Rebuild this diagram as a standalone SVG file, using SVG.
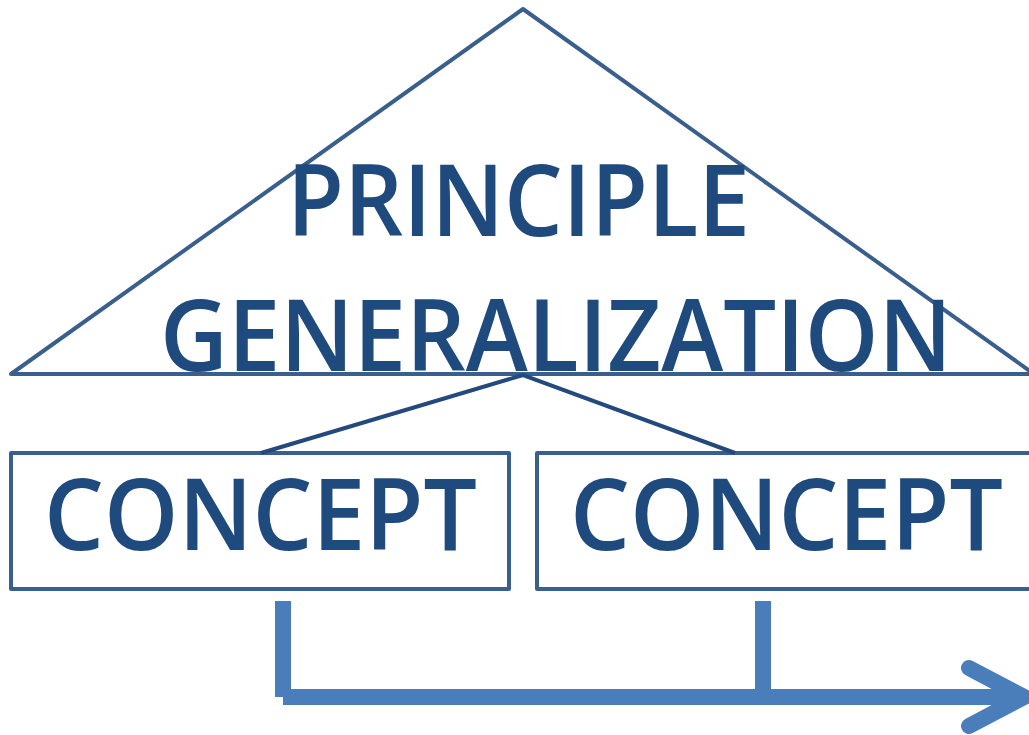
<svg xmlns="http://www.w3.org/2000/svg" width="1029" height="735" viewBox="0 0 1029 735">
<style>
.shape{fill:none;stroke:#3A5F8D;stroke-width:4;stroke-linejoin:round;stroke-linecap:round}
.lbl{font-family:"Open Sans","Noto Sans",sans-serif;font-weight:600;font-size:100px;fill:#1F4A7E;text-anchor:middle}
.link{stroke:#24497D;stroke-width:4;fill:none}
.flow{stroke:#4A7EBB;stroke-width:16;fill:none}
</style>
<rect width="1029" height="735" fill="#FFFFFF"/>
<g id="principle">
<polygon class="shape" points="11,374 523,9 1034,374"/>
<text class="lbl" x="518.5" y="236" textLength="463" lengthAdjust="spacingAndGlyphs">PRINCIPLE</text>
<text class="lbl" x="556" y="371" textLength="792" lengthAdjust="spacingAndGlyphs">GENERALIZATION</text>
</g>
<g id="concept1">
<rect class="shape" x="11" y="453" width="498" height="136"/>
<text class="lbl" x="260.5" y="550" textLength="433" lengthAdjust="spacingAndGlyphs">CONCEPT</text>
</g>
<g id="concept2">
<rect class="shape" x="537" y="453" width="500" height="136"/>
<text class="lbl" x="786.5" y="550" textLength="433" lengthAdjust="spacingAndGlyphs">CONCEPT</text>
</g>
<g id="connectors">
<polyline class="link" points="261,453 523,375 735,453"/>
<line class="flow" x1="283" y1="601" x2="283" y2="697"/>
<line class="flow" x1="763" y1="601" x2="763" y2="697"/>
<line class="flow" x1="283" y1="697" x2="1022" y2="697"/>
<polyline points="969,668 1024,697 969,726" fill="none" stroke="#4A7EBB" stroke-width="16" stroke-linecap="round" stroke-linejoin="miter"/>
</g>
</svg>
